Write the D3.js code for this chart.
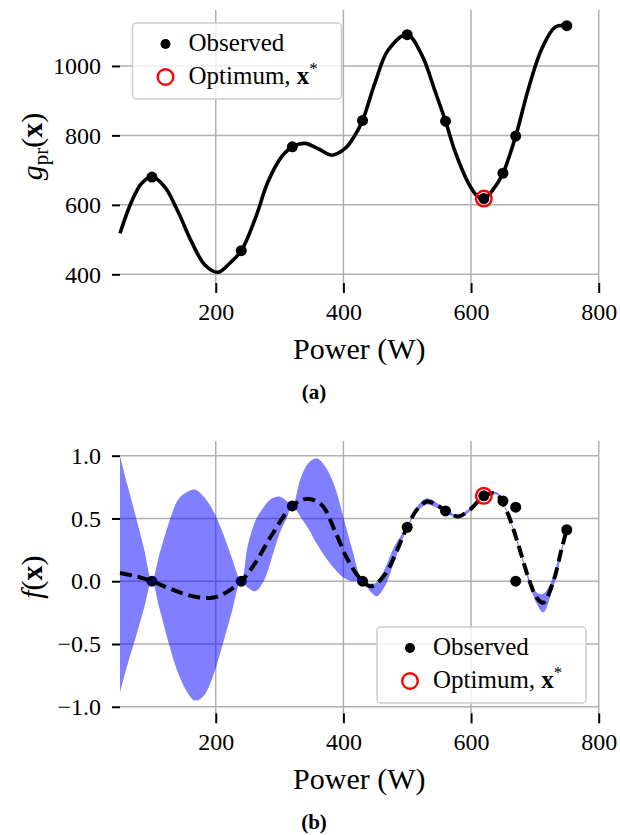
<!DOCTYPE html>
<html>
<head>
<meta charset="utf-8">
<script src="https://cdn.jsdelivr.net/npm/d3@7"></script>
<style>
  body { margin: 0; background: #fff; }
</style>
</head>
<body>
<div id="chart"></div>
<script>
// ---- values ----
const powerTicks = [200, 400, 600, 800]
const gTicks = [400, 600, 800, 1000]
const fTicks = [-1.0, -0.5, 0.0, 0.5, 1.0]

// panel (a): observations of g_pr
const obsPowerG = [100, 240, 320, 430, 500, 560, 620, 650, 670, 750]
const obsG = [680, 468, 767, 843, 1090, 841, 618, 691, 798, 1116]

// panel (a): fitted curve, sampled by eye
const gCurvePower = [50, 68, 84, 100, 120, 141, 162, 183, 204, 222, 240, 262, 282, 303, 320, 340, 361, 382, 403, 418, 430, 450, 470, 500, 523, 544, 560, 575, 596, 610, 620, 635, 650, 670, 690, 711, 732, 750]
const gCurve = [518, 609, 662, 681, 652, 580, 494, 427, 406, 432, 468, 561, 667, 738, 767, 777, 761, 743, 763, 800, 843, 954, 1045, 1090, 1031, 925, 841, 753, 662, 625, 618, 645, 691, 798, 935, 1050, 1112, 1116]

// panel (b): observations of f
const obsPowerF = [100, 240, 320, 430, 500, 560, 620, 650, 670, 670, 750]
const obsF = [0.0, 0.0, 0.60, 0.0, 0.43, 0.56, 0.68, 0.64, 0.59, 0.0, 0.41]

// panel (b): posterior mean
const fMeanPower = [50, 74, 100, 136, 168, 194, 215, 240, 262, 288, 320, 343, 366, 387, 408, 430, 444, 465, 500, 515, 531, 546, 560, 580, 598, 620, 638, 656, 674, 690, 703, 713, 729, 742, 750]
const fMean = [0.066, 0.04, 0.0, -0.074, -0.124, -0.132, -0.093, 0.0, 0.146, 0.37, 0.60, 0.656, 0.608, 0.397, 0.159, 0.0, -0.04, 0.053, 0.431, 0.569, 0.635, 0.608, 0.561, 0.516, 0.569, 0.677, 0.70, 0.556, 0.29, 0.026, -0.132, -0.172, 0.0, 0.26, 0.413]

// panel (b): uncertainty band
const bandPower = [50, 62, 75, 88, 100, 112, 125, 141, 155, 167, 180, 194, 210, 225, 240, 250, 262, 275, 288, 300, 311, 320, 333, 345, 358, 372, 386, 400, 414, 430, 442, 452, 465, 480, 500, 515, 530, 545, 560, 580, 600, 620, 640, 660, 675, 690, 703, 713, 725, 738, 750]
const bandUpper = [1.00, 0.76, 0.51, 0.25, 0.0, 0.22, 0.44, 0.65, 0.71, 0.73, 0.68, 0.58, 0.40, 0.19, 0.0, 0.28, 0.48, 0.59, 0.66, 0.675, 0.64, 0.60, 0.82, 0.94, 0.98, 0.91, 0.76, 0.51, 0.25, 0.0, -0.02, -0.01, 0.10, 0.28, 0.44, 0.59, 0.66, 0.63, 0.57, 0.53, 0.59, 0.68, 0.71, 0.51, 0.29, 0.04, -0.09, -0.10, -0.01, 0.20, 0.41]
const bandLower = [-0.886, -0.66, -0.44, -0.21, 0.0, -0.22, -0.47, -0.73, -0.88, -0.95, -0.92, -0.78, -0.52, -0.25, 0.0, -0.05, -0.08, 0.0, 0.19, 0.38, 0.50, 0.60, 0.51, 0.42, 0.30, 0.19, 0.10, 0.03, 0.0, 0.0, -0.08, -0.12, -0.04, 0.16, 0.42, 0.55, 0.61, 0.59, 0.55, 0.50, 0.565, 0.67, 0.69, 0.49, 0.26, 0.0, -0.18, -0.25, -0.11, 0.13, 0.41]

const optPower = 620
const optG = 618
const optF = 0.68

// ---- layout ----
const W = 620, H = 835
const FONT = 'Liberation Serif'

const svg = d3.select('#chart').append('svg')
    .attr('width', W)
    .attr('height', H)
    .attr('font-family', FONT)

svg.append('rect').attr('width', W).attr('height', H).attr('fill', '#fff')

const x = d3.scaleLinear().domain([50, 800]).range([120, 598.7])

function drawPanel(top, bottom, yDomain, yTicks, yFormat) {
  const y = d3.scaleLinear().domain(yDomain).range([bottom, top])
  const g = svg.append('g')

  // grid
  g.append('g').selectAll('line').data(powerTicks).join('line')
      .attr('x1', d => x(d)).attr('x2', d => x(d))
      .attr('y1', top).attr('y2', bottom)
      .attr('stroke', '#b0b0b0').attr('stroke-width', 1.5)
  g.append('g').selectAll('line').data(yTicks).join('line')
      .attr('x1', x.range()[0]).attr('x2', x.range()[1])
      .attr('y1', d => y(d)).attr('y2', d => y(d))
      .attr('stroke', '#b0b0b0').attr('stroke-width', 1.5)

  // axes, no spines
  const xa = g.append('g')
      .attr('transform', `translate(0,${bottom})`)
      .call(d3.axisBottom(x).tickValues(powerTicks).tickSize(10).tickPadding(10).tickFormat(d3.format('d')))
  const ya = g.append('g')
      .attr('transform', `translate(${x.range()[0]},0)`)
      .call(d3.axisLeft(y).tickValues(yTicks).tickSize(8).tickPadding(11).tickFormat(yFormat))
  for (const a of [xa, ya]) {
    a.attr('font-family', FONT).attr('font-size', 24)
    a.select('.domain').remove()
    a.selectAll('.tick line').attr('stroke', '#000').attr('stroke-width', 2)
    a.selectAll('.tick text').attr('fill', '#000')
  }

  // x label
  g.append('text')
      .attr('x', (x.range()[0] + x.range()[1]) / 2)
      .attr('y', bottom + 76)
      .attr('text-anchor', 'middle')
      .attr('font-size', 30)
      .text('Power (W)')

  return { y, g }
}

function drawLegend(g, lx, ly) {
  g.append('rect')
      .attr('x', lx).attr('y', ly)
      .attr('width', 209).attr('height', 76).attr('rx', 4)
      .attr('fill', '#fff').attr('fill-opacity', 0.8)
      .attr('stroke', '#cccccc').attr('stroke-width', 1.5)
  g.append('circle')
      .attr('cx', lx + 33).attr('cy', ly + 21).attr('r', 5)
      .attr('fill', '#000')
  g.append('text')
      .attr('x', lx + 56).attr('y', ly + 28)
      .attr('font-size', 25)
      .text('Observed')
  g.append('circle')
      .attr('cx', lx + 33).attr('cy', ly + 54).attr('r', 7.8)
      .attr('fill', 'none').attr('stroke', 'red').attr('stroke-width', 2.4)
  const t = g.append('text')
      .attr('x', lx + 56).attr('y', ly + 61)
      .attr('font-size', 25)
  t.append('tspan').text('Optimum, ')
  t.append('tspan').attr('font-weight', 'bold').text('x')
  t.append('tspan').attr('font-size', 17).attr('dy', -10).text('*')
}

// ---- panel (a) ----
const pa = drawPanel(10, 283, [375, 1161], gTicks, d3.format('d'))

const gData = gCurvePower.map((p, i) => [p, gCurve[i]])
pa.g.append('path')
    .datum(gData)
    .attr('fill', 'none')
    .attr('stroke', '#000')
    .attr('stroke-width', 3.6)
    .attr('d', d3.line().x(d => x(d[0])).y(d => pa.y(d[1])).curve(d3.curveCatmullRom))

pa.g.append('g').selectAll('circle')
    .data(obsPowerG.map((p, i) => [p, obsG[i]]))
    .join('circle')
      .attr('cx', d => x(d[0])).attr('cy', d => pa.y(d[1])).attr('r', 5.5)
      .attr('fill', '#000')

pa.g.append('circle')
    .attr('cx', x(optPower)).attr('cy', pa.y(optG)).attr('r', 7.8)
    .attr('fill', 'none').attr('stroke', 'red').attr('stroke-width', 2.4)

drawLegend(pa.g, 132.5, 23)

const yla = svg.append('text')
    .attr('transform', `translate(42,${(10 + 283) / 2}) rotate(-90)`)
    .attr('text-anchor', 'middle')
    .attr('font-size', 30)
yla.append('tspan').attr('font-style', 'italic').text('g')
yla.append('tspan').attr('font-size', 21).attr('dy', 6).text('pr')
yla.append('tspan').attr('dy', -6).text('(')
yla.append('tspan').attr('font-weight', 'bold').text('x')
yla.append('tspan').text(')')

svg.append('text')
    .attr('x', 314).attr('y', 399)
    .attr('text-anchor', 'middle')
    .attr('font-size', 21).attr('font-weight', 'bold')
    .text('(a)')

// ---- panel (b) ----
const pb = drawPanel(441, 713.3, [-1.052, 1.117], fTicks, d3.format('.1f'))

// points go under the translucent band
pb.g.append('g').selectAll('circle')
    .data(obsPowerF.map((p, i) => [p, obsF[i]]))
    .join('circle')
      .attr('cx', d => x(d[0])).attr('cy', d => pb.y(d[1])).attr('r', 5.5)
      .attr('fill', '#000')

pb.g.append('path')
    .datum(bandPower.map((p, i) => [p, bandLower[i], bandUpper[i]]))
    .attr('fill', 'blue').attr('fill-opacity', 0.5)
    .attr('d', d3.area().x(d => x(d[0])).y0(d => pb.y(d[1])).y1(d => pb.y(d[2])).curve(d3.curveCatmullRom))

pb.g.append('path')
    .datum(fMeanPower.map((p, i) => [p, fMean[i]]))
    .attr('fill', 'none')
    .attr('stroke', '#000')
    .attr('stroke-width', 4)
    .attr('stroke-dasharray', '12,6')
    .attr('d', d3.line().x(d => x(d[0])).y(d => pb.y(d[1])).curve(d3.curveCatmullRom))

pb.g.append('circle')
    .attr('cx', x(optPower)).attr('cy', pb.y(optF)).attr('r', 7.8)
    .attr('fill', 'none').attr('stroke', 'red').attr('stroke-width', 2.4)

drawLegend(pb.g, 377, 627)

const ylb = svg.append('text')
    .attr('transform', `translate(42,${(441 + 713.3) / 2}) rotate(-90)`)
    .attr('text-anchor', 'middle')
    .attr('font-size', 30)
ylb.append('tspan').attr('font-style', 'italic').text('f')
ylb.append('tspan').text('(')
ylb.append('tspan').attr('font-weight', 'bold').text('x')
ylb.append('tspan').text(')')

svg.append('text')
    .attr('x', 314).attr('y', 829)
    .attr('text-anchor', 'middle')
    .attr('font-size', 21).attr('font-weight', 'bold')
    .text('(b)')
</script>
</body>
</html>
